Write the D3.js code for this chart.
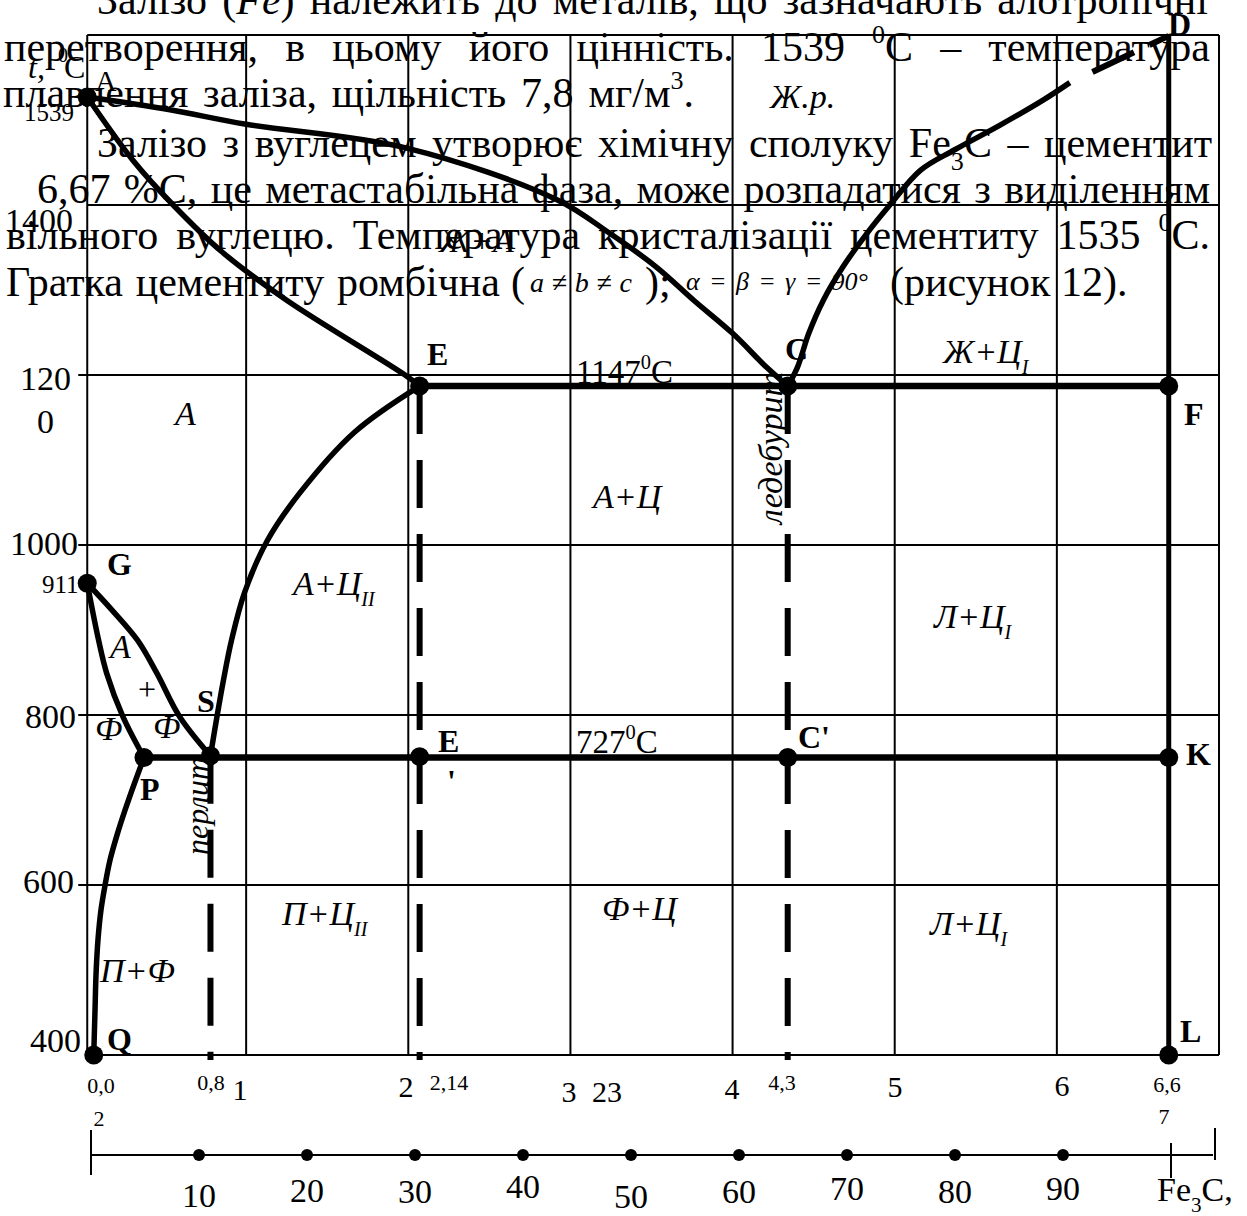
<!DOCTYPE html>
<html>
<head>
<meta charset="utf-8">
<script src="https://d3js.org/d3.v7.min.js"></script>
<style>
  body { margin: 0; background: #fff; }
  svg text { font-family: "Liberation Serif", "Times New Roman", serif; fill: #000; }
</style>
</head>
<body>
<div id="chart"></div>
<script>
// ---- data: carbon %, temperature as it is drawn on this (schematic) diagram ----
var cGrid = [1, 2, 3, 4, 5, 6];
var tGrid = [1600, 1400, 1200, 1000, 800, 600, 400];
var tLabeled = [1200, 1000, 800, 600];

var pointNames = ['A', 'E', 'C', 'F', 'G', 'S', 'P', 'E\'', 'C\'', 'K', 'Q', 'L'];
var pointC     = [0.02, 2.07, 4.34, 6.69, 0.02, 0.78, 0.37, 2.07, 4.34, 6.69, 0.06, 6.69];
var pointT     = [1527, 1187, 1187, 1187, 955, 752, 750, 751, 750, 750, 400, 400];

// phase lines [c, t]
var lineAC = [[0.02,1527],[0.53,1512],[1.0,1495],[1.99,1467],[2.92,1406],[3.24,1367],[3.53,1327],[3.76,1288],[4.0,1249],[4.21,1209],[4.34,1187]];
var lineCD = [[4.34,1187],[4.4,1209],[4.47,1249],[4.56,1288],[4.68,1327],[4.83,1367],[4.97,1400],[5.16,1441],[5.37,1465],[5.65,1494],[5.92,1524],[6.08,1544]];
var lineDtop = [[6.08,1544],[6.69,1599]];
var lineAE = [[0.02,1527],[0.3,1453],[0.55,1400],[0.85,1345],[1.25,1288],[1.98,1200],[2.07,1187]];
var lineES = [[2.07,1187],[1.67,1133],[1.33,1061],[1.13,1005],[0.99,944],[0.91,888],[0.86,841],[0.82,798],[0.78,752]];
var lineGS = [[0.02,955],[0.17,924],[0.33,888],[0.45,849],[0.59,798],[0.78,752]];
var lineGP = [[0.02,955],[0.09,888],[0.14,849],[0.24,798],[0.37,750]];
var linePQ = [[0.37,750],[0.308,718],[0.253,688],[0.204,659],[0.16,629],[0.13,600],[0.105,571],[0.086,535],[0.074,494],[0.068,453],[0.06,400]];
var lineECF = [[2.07,1187],[6.69,1187]];
var linePSK = [[0.37,750],[6.69,750]];
var lineDL = [[6.69,1599],[6.69,400]];
var dashed = [[[0.78,752],[0.78,394]], [[2.07,1187],[2.07,394]], [[4.34,1187],[4.34,394]]];

var cementite = [10, 20, 30, 40, 50, 60, 70, 80, 90];

var W = 1247, H = 1216;
var svg = d3.select('#chart').append('svg').attr('width', W).attr('height', H);

var x = d3.scaleLinear().domain([0, 7]).range([84, 1219]);
var y = d3.scaleLinear().domain([400, 1600]).range([1055, 35]);
var xp = d3.scaleLinear().domain([0, 100]).range([91, 1171]);

// helper for text with sub / superscripts
function label(parts, px, py, o) {
  o = o || {};
  var size = o.size || 34;
  var t = svg.append('text').attr('x', px).attr('y', py)
    .attr('text-anchor', o.anchor || 'start')
    .style('font-size', size + 'px')
    .style('font-style', o.italic ? 'italic' : 'normal')
    .style('font-weight', o.bold ? 'bold' : 'normal');
  if (o.rotate) t.attr('transform', 'rotate(' + o.rotate + ',' + px + ',' + py + ')');
  var shift = 0;
  [].concat(parts).forEach(function(p) {
    if (typeof p === 'string') p = {t: p};
    var d = p.sub ? size * 0.32 : p.sup ? -size * 0.42 : 0;
    var ts = t.append('tspan').text(p.t).attr('dy', d - shift);
    if (p.sub || p.sup) ts.style('font-size', (p.small || size * 0.62) + 'px');
    if (p.italic !== undefined) ts.style('font-style', p.italic ? 'italic' : 'normal');
    shift = d;
  });
  return t;
}
function justify(t, right) {
  var x0 = +t.attr('x');
  var w = t.node().getComputedTextLength();
  var n = (t.text().match(/ /g) || []).length;
  if (n) t.style('word-spacing', ((right - x0 - w) / n) + 'px');
  return t;
}

// ---- paragraph text behind the figure ----
var P = {size: 42};
justify(label(['Залізо (', {t: 'Fe', italic: true}, ') належить до металів, що зазначають алотропічні'], 97, 14, P), 1208);
justify(label(['перетворення, в цьому його цінність. 1539 ', {t: '0', sup: true}, 'C – температура'], 4, 61, P), 1210);
justify(label(['плавлення заліза, щільність 7,8 мг/м', {t: '3', sup: true}, '.'], 3, 107, P), 694);
justify(label(['Залізо з вуглецем утворює хімічну сполуку Fe', {t: '3', sub: true}, 'C – цементит'], 97, 157, P), 1212);
justify(label(['6,67 %С, це метастабільна фаза, може розпадатися з виділенням'], 37, 203, P), 1210);
justify(label(['вільного вуглецю. Температура кристалізації цементиту 1535 ', {t: '0', sup: true}, 'C.'], 6, 249, P), 1210);
justify(label(['Гратка цементиту ромбічна'], 6, 296, P), 500);
label('(', 511, 296, P);
justify(label('a ≠ b ≠ c', 530, 292, {size: 28, italic: true}), 632);
label(');', 645, 296, P);
justify(label('α = β = γ = 90°', 686, 290, {size: 26, italic: true}), 868);
label('(рисунок 12).', 890, 296, P);

// ---- grid ----
var grid = svg.append('g').attr('stroke', '#000').attr('stroke-width', 2);
grid.selectAll('line.v').data(cGrid).enter().append('line')
  .attr('x1', function(d) { return x(d); }).attr('x2', function(d) { return x(d); })
  .attr('y1', y(1600)).attr('y2', y(400));
grid.selectAll('line.h').data(tGrid).enter().append('line')
  .attr('x1', function(d) { return tLabeled.indexOf(d) >= 0 ? x(0.02) - 9 : x(0.02); })
  .attr('x2', x(7))
  .attr('y1', function(d) { return y(d); }).attr('y2', function(d) { return y(d); });
grid.append('line').attr('x1', x(0.02)).attr('x2', x(0.02)).attr('y1', y(1600)).attr('y2', y(400));
grid.append('line').attr('x1', x(7)).attr('x2', x(7)).attr('y1', y(1600)).attr('y2', y(400));

// ---- phase lines ----
var curve = d3.line().x(function(d) { return x(d[0]); }).y(function(d) { return y(d[1]); })
  .curve(d3.curveCatmullRom.alpha(0.5));
var straight = d3.line().x(function(d) { return x(d[0]); }).y(function(d) { return y(d[1]); });
var ph = svg.append('g').attr('fill', 'none').attr('stroke', '#000').attr('stroke-linecap', 'butt');
[lineAC, lineCD, lineAE, lineES, lineGS, lineGP, linePQ].forEach(function(l) {
  ph.append('path').attr('d', curve(l)).attr('stroke-width', 5.5);
});
ph.append('path').attr('d', straight(lineDtop)).attr('stroke-width', 6).attr('stroke-dasharray', '0,25,46,17,30');
[lineECF, linePSK].forEach(function(l) {
  ph.append('path').attr('d', straight(l)).attr('stroke-width', 6.5);
});
ph.append('path').attr('d', straight(lineDL)).attr('stroke-width', 5);
dashed.forEach(function(l) {
  ph.append('path').attr('d', straight(l)).attr('stroke-width', 6).attr('stroke-dasharray', '48,26');
});

// ---- points ----
svg.selectAll('circle.pt').data(pointNames).enter().append('circle')
  .attr('cx', function(d, i) { return x(pointC[i]); })
  .attr('cy', function(d, i) { return y(pointT[i]); })
  .attr('r', 9.5).attr('fill', '#000');

// ---- point names ----
var bold = {size: 32, bold: true};
label('A', 95, 91, {size: 30});
label('E', 427, 365, bold);
label('C', 785, 360, bold);
label('F', 1184, 425, bold);
label('D', 1168, 35, bold);
label('G', 107, 575, bold);
label('S', 197, 712, bold);
label('P', 140, 800, bold);
label('E', 438, 752, bold);
label('\'', 447, 792, bold);
label('C\'', 798, 748, bold);
label('K', 1186, 765, bold);
label('Q', 107, 1050, bold);
label('L', 1180, 1042, bold);

// ---- region names ----
var it = {size: 34, italic: true};
var sub = function(s) { return {t: s, sub: true, small: 20}; };
label('Ж.р.', 770, 108, it);
label('Ж+А', 439, 252, it);
label('А', 175, 425, it);
label(['А+Ц', sub('II')], 293, 595, it);
label(['Ж+Ц', sub('I')], 943, 363, it);
label('А+Ц', 593, 508, it);
label(['Л+Ц', sub('I')], 934, 628, it);
label('А', 110, 658, it);
label('+', 138, 700, {size: 32});
label('Ф', 95, 740, it);
label('Ф', 153, 738, it);
label(['П+Ц', sub('II')], 282, 925, it);
label('Ф+Ц', 602, 920, it);
label(['Л+Ц', sub('I')], 930, 935, it);
label('П+Ф', 100, 982, it);
label('перлит', 208, 806, {size: 32, italic: true, anchor: 'middle', rotate: -90});
label('ледебурит', 782, 448, {size: 34, italic: true, anchor: 'middle', rotate: -90});
label(['1147', {t: '0', sup: true}, 'C'], 576, 383, {size: 33});
label(['727', {t: '0', sup: true}, 'C'], 576, 753, {size: 33});

// ---- temperature labels ----
label(['t,'], 28, 78, {size: 32, italic: true});
label('0', 58, 62, {size: 20});
label('C', 64, 78, {size: 32});
label('1539', 24, 121, {size: 25});
label('1400', 5, 232, {size: 34});
label('120', 20, 390, {size: 34});
label('0', 37, 433, {size: 34});
label('1000', 10, 555, {size: 34});
label('911', 42, 593, {size: 25});
label('800', 25, 728, {size: 34});
label('600', 23, 893, {size: 34});
label('400', 30, 1052, {size: 34});

// ---- carbon labels ----
var mid = {size: 30, anchor: 'middle'};
var sm = {size: 22, anchor: 'middle'};
label('0,0', 101, 1093, sm);
label('2', 99, 1126, sm);
label('0,8', 211, 1090, sm);
label('2,14', 449, 1090, sm);
label('4,3', 782, 1090, sm);
label('6,6', 1167, 1092, sm);
label('7', 1164, 1124, sm);
label('1', 240, 1100, mid);
label('2', 406, 1097, mid);
label('3', 569, 1102, mid);
label('23', 607, 1102, mid);
label('4', 732, 1099, mid);
label('5', 895, 1097, mid);
label('6', 1062, 1096, mid);

// ---- cementite scale ----
var ax = svg.append('g').attr('stroke', '#000').attr('stroke-width', 2);
ax.append('line').attr('x1', xp(0)).attr('x2', xp(100) + 42).attr('y1', 1155).attr('y2', 1155);
ax.append('line').attr('x1', xp(0)).attr('x2', xp(0)).attr('y1', 1130).attr('y2', 1175);
ax.append('line').attr('x1', xp(100)).attr('x2', xp(100)).attr('y1', 1143).attr('y2', 1178);
ax.append('line').attr('x1', xp(100) + 44).attr('x2', xp(100) + 44).attr('y1', 1128).attr('y2', 1160);
svg.selectAll('circle.cm').data(cementite).enter().append('circle')
  .attr('cx', function(d) { return xp(d); }).attr('cy', 1155).attr('r', 6).attr('fill', '#000');
var cy = [1207, 1202, 1203, 1198, 1208, 1203, 1200, 1203, 1200];
cementite.forEach(function(d, i) {
  label(String(d), xp(d), cy[i], {size: 34, anchor: 'middle'});
});
label(['Fe', {t: '3', sub: true}, 'C,'], 1157, 1201, {size: 34});
</script>
</body>
</html>
